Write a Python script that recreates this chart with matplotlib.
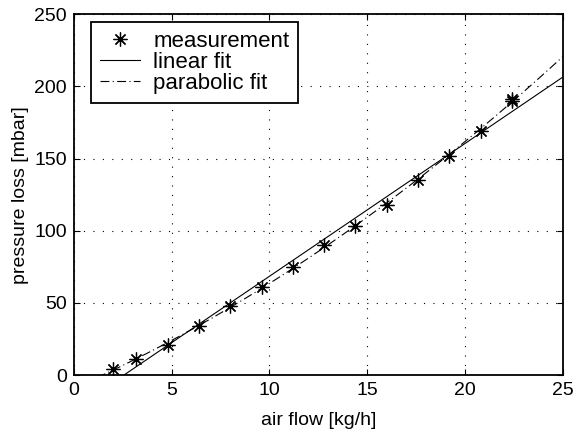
import numpy as np
import matplotlib.pyplot as plt

plt.rcParams['font.family'] = ['Liberation Sans', 'DejaVu Sans']

air_flow = [2.0, 3.2, 4.8, 6.4, 8.0, 9.6, 11.2, 12.8, 14.4, 16.0, 17.6, 19.2, 20.8, 22.4, 22.4]
pressure_loss = [4, 11, 21, 34, 48, 61, 75, 90, 103, 118, 135, 152, 169, 190, 191]

x_fit_range = [1.2, 25.0]

x_fit = np.linspace(x_fit_range[0], x_fit_range[1], 200)
lin = np.polyval(np.polyfit(air_flow, pressure_loss, 1), x_fit)
par = np.polyval(np.polyfit(air_flow, pressure_loss, 2), x_fit)

fig = plt.figure(figsize=(5.76, 4.44), dpi=100)
ax = fig.add_axes([0.128, 0.155, 0.849, 0.813])

star = (8, 2, 0)  # matlab-style asterisk
ax.plot(air_flow, pressure_loss, color='black', marker=star, markersize=10,
        markeredgewidth=0.9, linestyle='none', label='measurement')
ax.plot(x_fit, lin, 'k-', linewidth=0.8, label='linear fit')
ax.plot(x_fit, par, color='black', linestyle=(0, (8, 3, 1, 3)), linewidth=0.8,
        label='parabolic fit')

ax.set_xlim(0, 25)
ax.set_ylim(0, 250)
ax.set_xticks([0, 5, 10, 15, 20, 25])
ax.set_yticks([0, 50, 100, 150, 200, 250])
ax.grid(True, color='black', linestyle=(0, (1, 7.5)), linewidth=0.8)
ax.tick_params(direction='in', top=True, right=True, labelsize=14, length=4, pad=5)
for s in ax.spines.values():
    s.set_linewidth(1.3)

ax.set_xlabel('air flow [kg/h]', fontsize=14, labelpad=9)
ax.set_ylabel('pressure loss [mbar]', fontsize=14, labelpad=4)

leg = ax.legend(loc='upper left', bbox_to_anchor=(0.035, 0.978), borderaxespad=0,
                fontsize=16, fancybox=False, framealpha=1, edgecolor='black',
                borderpad=0.4, labelspacing=0.0, handlelength=1.8, handletextpad=0.6)
leg.get_frame().set_linewidth(1.3)

fig.savefig('out.png', dpi=100)
